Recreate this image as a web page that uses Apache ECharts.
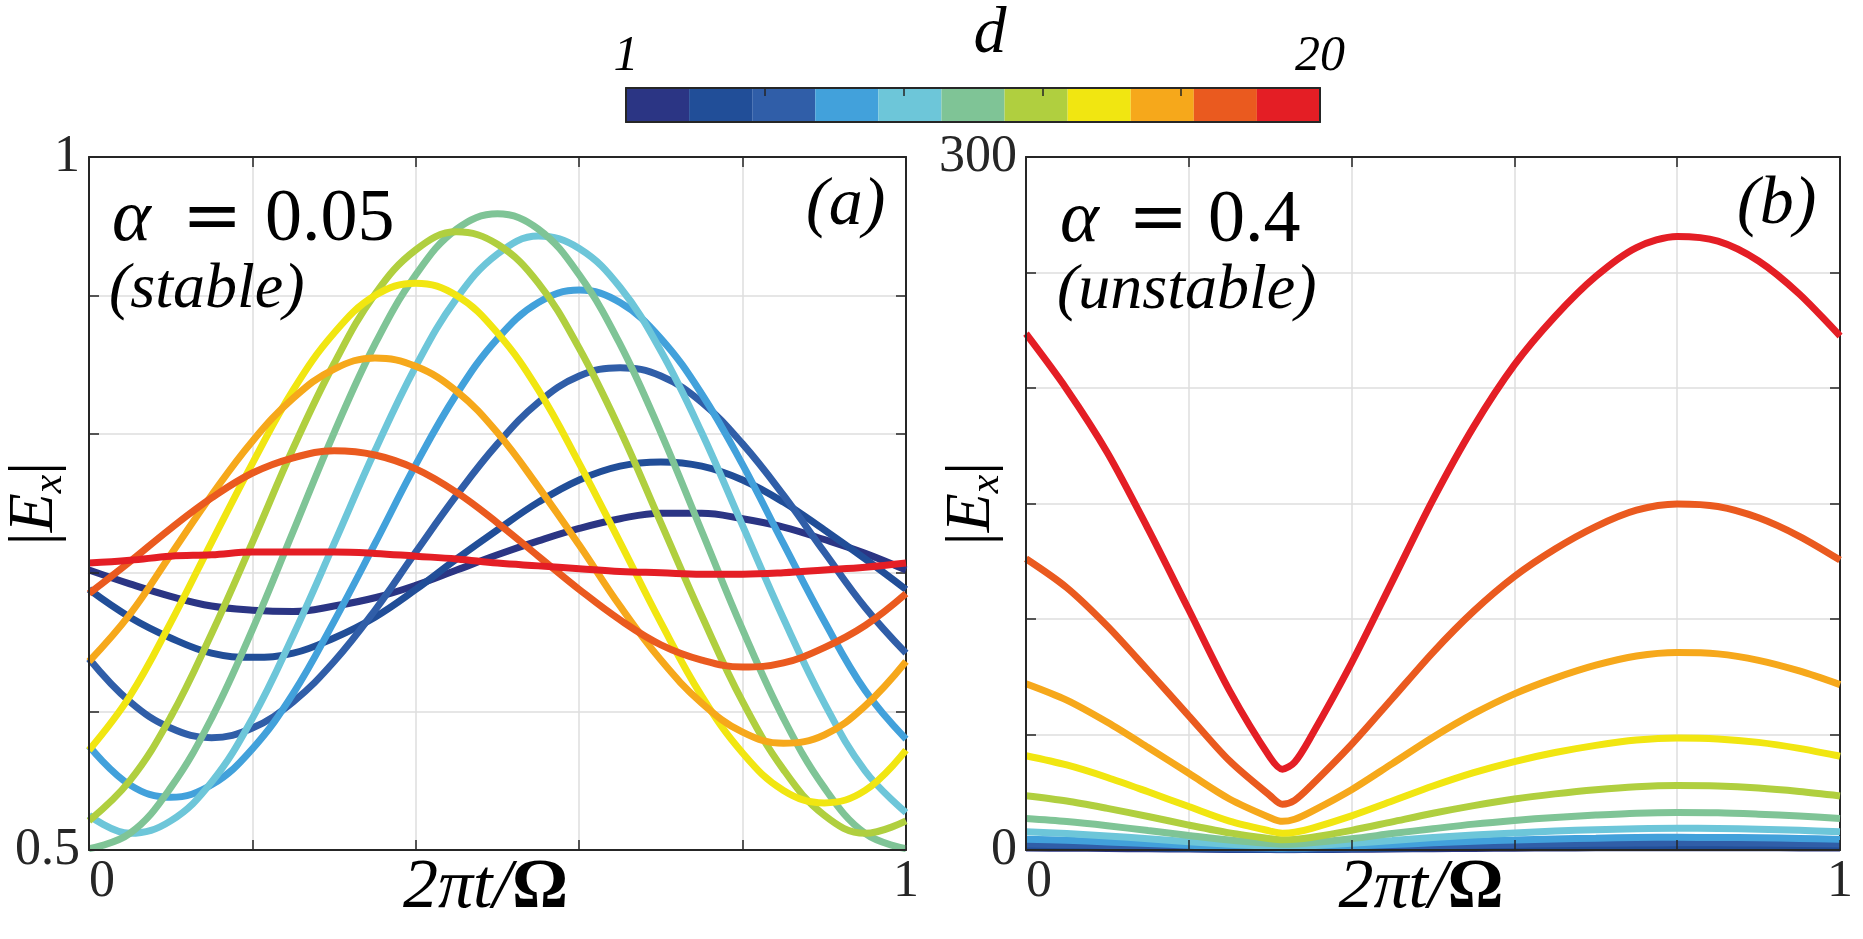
<!DOCTYPE html>
<html>
<head>
<meta charset="utf-8">
<title>|Ex| over one period</title>
<script src="https://cdn.jsdelivr.net/npm/echarts@6/dist/echarts.min.js"></script>
<style>
  html, body { margin: 0; padding: 0; background: #fff; }
  #chart { width: 1863px; height: 939px; }
</style>
</head>
<body>
<div id="chart"></div>
<script>
// colour of each d level, from d = 1 (navy) to d = 20 (red)
const colorMap = ['#2b3584', '#214e98', '#305ea8', '#42a1db', '#6dc6d9', '#7fc496',
                  '#b0cf3f', '#f1e611', '#f6a81b', '#ea5a1f', '#e41e25'];
const colorbarEnds = ['1', '20'];

// (a) alpha = 0.05 (stable): |Ex| against 2*pi*t/Omega
const tA = [0, 0.05, 0.1, 0.15, 0.2, 0.25, 0.3, 0.35, 0.4, 0.45, 0.5,
            0.55, 0.6, 0.65, 0.7, 0.75, 0.8, 0.85, 0.9, 0.95, 1];
const a1  = [0.702, 0.692, 0.683, 0.676, 0.673, 0.672, 0.676, 0.682, 0.691, 0.702, 0.713, 0.723, 0.732, 0.739, 0.743, 0.743, 0.739, 0.733, 0.724, 0.714, 0.702];
const a2  = [0.688, 0.668, 0.653, 0.642, 0.639, 0.642, 0.653, 0.668, 0.688, 0.710, 0.731, 0.751, 0.767, 0.777, 0.780, 0.777, 0.767, 0.751, 0.731, 0.710, 0.688];
const a3  = [0.638, 0.607, 0.588, 0.581, 0.588, 0.607, 0.636, 0.673, 0.715, 0.756, 0.793, 0.823, 0.842, 0.848, 0.842, 0.823, 0.793, 0.756, 0.715, 0.675, 0.642];
const a4  = [0.575, 0.547, 0.538, 0.547, 0.573, 0.613, 0.665, 0.721, 0.778, 0.829, 0.869, 0.895, 0.904, 0.895, 0.869, 0.829, 0.778, 0.721, 0.665, 0.615, 0.580];
const a5  = [0.525, 0.512, 0.521, 0.549, 0.595, 0.655, 0.721, 0.788, 0.849, 0.898, 0.930, 0.943, 0.934, 0.906, 0.860, 0.801, 0.734, 0.667, 0.606, 0.557, 0.527];
const a6  = [0.501, 0.512, 0.545, 0.595, 0.659, 0.730, 0.801, 0.865, 0.915, 0.948, 0.959, 0.948, 0.915, 0.865, 0.801, 0.730, 0.659, 0.595, 0.545, 0.512, 0.501];
const a7  = [0.521, 0.550, 0.596, 0.656, 0.722, 0.790, 0.851, 0.901, 0.933, 0.946, 0.937, 0.909, 0.862, 0.803, 0.736, 0.669, 0.607, 0.558, 0.525, 0.512, 0.521];
const a8  = [0.572, 0.611, 0.664, 0.722, 0.779, 0.832, 0.873, 0.900, 0.909, 0.900, 0.873, 0.832, 0.779, 0.722, 0.664, 0.611, 0.570, 0.543, 0.534, 0.543, 0.572];
const a9  = [0.636, 0.670, 0.713, 0.756, 0.795, 0.826, 0.847, 0.855, 0.849, 0.831, 0.801, 0.762, 0.720, 0.676, 0.637, 0.606, 0.585, 0.577, 0.583, 0.604, 0.636];
const a10 = [0.685, 0.708, 0.732, 0.754, 0.772, 0.783, 0.788, 0.785, 0.775, 0.758, 0.736, 0.712, 0.688, 0.666, 0.648, 0.637, 0.632, 0.635, 0.646, 0.662, 0.685];
const a11 = [0.707, 0.709, 0.712, 0.713, 0.715, 0.715, 0.715, 0.714, 0.712, 0.710, 0.707, 0.705, 0.703, 0.701, 0.700, 0.699, 0.699, 0.700, 0.702, 0.704, 0.707];
const stableCurves = [a1, a2, a3, a4, a5, a6, a7, a8, a9, a10, a11];

// (b) alpha = 0.4 (unstable)
const tB = [0, 0.05, 0.1, 0.15, 0.2, 0.25, 0.3, 0.315, 0.33, 0.35, 0.4, 0.45,
            0.5, 0.55, 0.6, 0.65, 0.7, 0.75, 0.8, 0.85, 0.9, 0.95, 1];
const b1  = [0.85, 0.77, 0.65, 0.52, 0.39, 0.26, 0.17, 0.15, 0.16, 0.2, 0.31, 0.44, 0.58, 0.7, 0.8, 0.88, 0.94, 0.99, 1, 1, 0.97, 0.91, 0.85];
const b2  = [1.5, 1.35, 1.15, 0.92, 0.69, 0.46, 0.3, 0.26, 0.28, 0.35, 0.54, 0.78, 1, 1.2, 1.4, 1.55, 1.65, 1.75, 1.78, 1.77, 1.7, 1.6, 1.5];
const b3  = [2.6, 2.3, 2, 1.6, 1.2, 0.8, 0.5, 0.45, 0.48, 0.6, 0.9, 1.3, 1.8, 2.1, 2.4, 2.7, 2.9, 3, 3.1, 3.1, 3, 2.8, 2.6];
const b4  = [4.6, 4.2, 3.5, 2.8, 2.1, 1.4, 0.9, 0.8, 0.85, 1, 1.7, 2.4, 3.1, 3.8, 4.3, 4.8, 5.1, 5.4, 5.5, 5.4, 5.3, 5, 4.6];
const b5  = [7.9, 7.1, 6.1, 4.9, 3.6, 2.5, 1.6, 1.4, 1.5, 1.8, 2.9, 4.1, 5.4, 6.5, 7.4, 8.2, 8.8, 9.2, 9.4, 9.3, 9, 8.5, 7.9];
const b6  = [13.6, 12.3, 10.5, 8.4, 6.3, 4.3, 2.8, 2.5, 2.6, 3.1, 4.9, 7.1, 9.2, 11.2, 12.8, 14.1, 15.1, 15.9, 16.2, 16.1, 15.5, 14.7, 13.6];
const b7  = [23.5, 21.2, 18, 14.5, 10.8, 7.4, 4.9, 4.4, 4.6, 5.4, 8.5, 12.2, 15.9, 19.2, 22.1, 24.3, 26.1, 27.4, 27.9, 27.7, 26.8, 25.3, 23.4];
const b8  = [40.8, 36.8, 31.4, 25.2, 18.8, 12.5, 8.2, 7.3, 7.7, 9.3, 14.8, 21.2, 27.7, 33.5, 38.3, 42.2, 45.3, 47.6, 48.5, 48.1, 46.6, 44, 40.6];
const b9  = [72, 64.9, 55.3, 44.4, 33.2, 22.1, 14, 12.4, 13.3, 16.5, 26.1, 37.4, 48.8, 59, 67.6, 74.4, 80, 84, 85.5, 84.9, 82.1, 77.5, 71.6];
const b10 = [126.1, 113.6, 96.9, 77.7, 58.1, 38.6, 23.5, 19.8, 21.5, 27.8, 45.7, 65.6, 85.6, 103.4, 118.4, 130.3, 140, 147.1, 149.8, 148.7, 143.8, 135.8, 125.5];
const b11 = [223.5, 199.5, 172, 139, 104, 69, 40, 35, 38, 49, 81, 116.3, 151.7, 183.3, 210, 231, 248.3, 260.8, 265.6, 263.6, 255, 240.7, 222.5];
const unstableCurves = [b1, b2, b3, b4, b5, b6, b7, b8, b9, b10, b11];

const FONT = "'Liberation Serif', 'Times New Roman', 'DejaVu Serif', serif";
const INK = '#262626';
const GRID_LINE = '#dedede';

const chart = echarts.init(document.getElementById('chart'), null, { renderer: 'canvas' });

const near = (a, b) => Math.abs(a - b) < 1e-9;
const frameLine = { onZero: false, lineStyle: { color: INK, width: 2 } };
const inTick = { inside: true, length: 10, lineStyle: { color: INK, width: 1.5 } };
const tickFont = { fontFamily: FONT, fontSize: 52, color: INK };

const xName = {
    name: '{i|2πt/}{o|Ω}',
    nameLocation: 'middle',
    nameGap: 4,
    nameMoveOverlap: false,
    nameTextStyle: {
        padding: [0, 24, 0, 0],
        rich: {
            i: { fontFamily: FONT, fontStyle: 'italic', fontSize: 70, color: '#000' },
            o: { fontFamily: FONT, fontWeight: 'bold', fontSize: 70, color: '#000' }
        }
    }
};
const yName = {
    name: '{v|\u007c}{e|E}{s|x}{v|\u007c}',
    nameLocation: 'middle',
    nameGap: 22,
    nameMoveOverlap: false,
    nameTextStyle: {
        rich: {
            v: { fontFamily: FONT, fontSize: 64, lineHeight: 64, verticalAlign: 'top', color: '#000' },
            e: { fontFamily: FONT, fontStyle: 'italic', fontSize: 64, lineHeight: 64, verticalAlign: 'top', color: '#000' },
            s: { fontFamily: FONT, fontStyle: 'italic', fontSize: 42, lineHeight: 42, padding: [26, 0, 0, 0], verticalAlign: 'top', color: '#000' }
        }
    }
};

function panelAxes(gi, yMin, yMax, yStep) {
    const xs = [
        Object.assign({
            gridIndex: gi, type: 'value', position: 'bottom', min: 0, max: 1, interval: 0.2, z: 5,
            axisLine: frameLine, axisTick: inTick, splitLine: { show: false },
            axisLabel: Object.assign({ margin: 6, alignMinLabel: 'left',
                formatter: v => (near(v, 0) ? '0' : near(v, 1) ? '1' : '') }, tickFont)
        }, xName),
        {
            gridIndex: gi, type: 'value', position: 'top', min: 0, max: 1, interval: 0.2,
            axisLine: frameLine, axisTick: inTick, axisLabel: { show: false },
            splitLine: { show: true, lineStyle: { color: GRID_LINE, width: 1.5 } }
        }
    ];
    const ys = [
        Object.assign({
            gridIndex: gi, type: 'value', position: 'left', min: yMin, max: yMax, interval: yStep, z: 5,
            axisLine: frameLine, axisTick: inTick, splitLine: { show: false },
            axisLabel: Object.assign({ margin: 9,
                formatter: v => (near(v, yMin) ? String(yMin) : near(v, yMax) ? String(yMax) : '') }, tickFont)
        }, yName),
        {
            gridIndex: gi, type: 'value', position: 'right', min: yMin, max: yMax, interval: yStep,
            axisLine: frameLine, axisTick: inTick, axisLabel: { show: false },
            splitLine: { show: true, lineStyle: { color: GRID_LINE, width: 1.5 } }
        }
    ];
    return { xs, ys };
}

const pa = panelAxes(0, 0.5, 1, 0.1);
const pb = panelAxes(1, 0, 300, 50);

// colour bar: one bar per d level, framed by four axes
const cbX = [
    { gridIndex: 2, type: 'category', data: colorMap.map((c, i) => i), z: 5,
      axisLine: frameLine, axisTick: { show: false }, axisLabel: { show: false } },
    { gridIndex: 2, type: 'value', position: 'top', min: 0, max: 1, interval: 0.2, z: 5,
      axisLine: frameLine,
      axisTick: { inside: true, length: 8, lineStyle: { color: INK, width: 1.5 } },
      splitLine: { show: false },
      axisLabel: { margin: 6, fontFamily: FONT, fontStyle: 'italic', fontSize: 50, color: '#000',
                   formatter: v => (near(v, 0) ? colorbarEnds[0] : near(v, 1) ? colorbarEnds[1] : '') },
      name: 'd', nameLocation: 'middle', nameGap: 20, nameMoveOverlap: false,
      nameTextStyle: { fontFamily: FONT, fontStyle: 'italic', fontSize: 66, color: '#000', padding: [0, 0, 0, 34] } }
];
const cbY = [
    { gridIndex: 2, type: 'value', position: 'left', min: 0, max: 1, z: 5,
      axisLine: frameLine, axisTick: { show: false }, axisLabel: { show: false }, splitLine: { show: false } },
    { gridIndex: 2, type: 'value', position: 'right', min: 0, max: 1, z: 5,
      axisLine: frameLine, axisTick: { show: false }, axisLabel: { show: false }, splitLine: { show: false } }
];

const series = [];
stableCurves.forEach((vals, i) => {
    series.push({
        type: 'line', name: 'd' + (i + 1), xAxisIndex: 0, yAxisIndex: 0,
        data: tA.map((t, k) => [t, vals[k]]),
        smooth: 0.4, showSymbol: false, silent: true,
        lineStyle: { color: colorMap[i], width: 7 }, itemStyle: { color: colorMap[i] }
    });
});
unstableCurves.forEach((vals, i) => {
    series.push({
        type: 'line', name: 'd' + (i + 1), xAxisIndex: 2, yAxisIndex: 2,
        data: tB.map((t, k) => [t, vals[k]]),
        smooth: 0.3, showSymbol: false, silent: true,
        lineStyle: { color: colorMap[i], width: 7 }, itemStyle: { color: colorMap[i] }
    });
});
series.push({
    type: 'bar', xAxisIndex: 4, yAxisIndex: 4, barWidth: '100%', silent: true,
    data: colorMap.map(c => ({ value: 1, itemStyle: { color: c } }))
});

// panel annotations
const txt = (x, y, text, size, style, family) => ({
    type: 'text', x, y, silent: true, z: 10,
    style: { text, fill: '#000', fontFamily: family || FONT, fontSize: size, fontStyle: style || 'normal',
             textAlign: 'left', textVerticalAlign: 'middle' }
});

const noBounds = { containLabel: false, outerBoundsMode: 'none' };

chart.setOption({
    animation: false,
    backgroundColor: '#fff',
    grid: [
        Object.assign({ left: 89, top: 157, width: 817, height: 693 }, noBounds),
        Object.assign({ left: 1026, top: 157, width: 814, height: 693 }, noBounds),
        Object.assign({ left: 626, top: 88, width: 694, height: 34 }, noBounds)
    ],
    xAxis: [...pa.xs, ...pb.xs, ...cbX],
    yAxis: [...pa.ys, ...pb.ys, ...cbY],
    series,
    graphic: [
        txt(112, 221, 'α', 74, 'italic'),
        txt(182, 221, '=', 72, 'normal', 'DejaVu Serif'),
        txt(265, 221, '0.05', 74),
        txt(109, 290, '(stable)', 64, 'italic'),
        txt(806, 206, '(a)', 68, 'italic'),
        txt(1060, 222, 'α', 74, 'italic'),
        txt(1128, 222, '=', 72, 'normal', 'DejaVu Serif'),
        txt(1208, 222, '0.4', 74),
        txt(1057, 291, '(unstable)', 64, 'italic'),
        txt(1737, 205, '(b)', 68, 'italic')
    ]
});

window.addEventListener('resize', () => chart.resize());
</script>
</body>
</html>
